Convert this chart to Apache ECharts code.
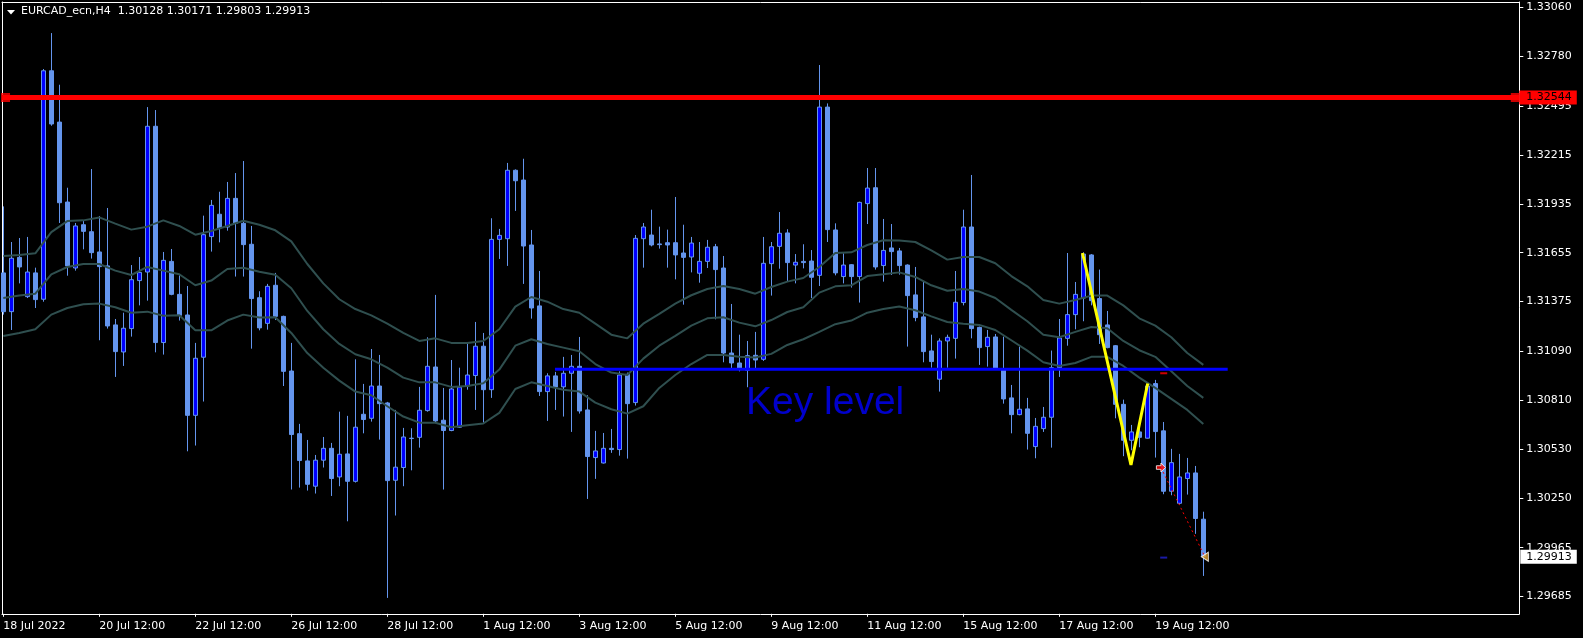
<!DOCTYPE html>
<html><head><meta charset="utf-8">
<script src="https://cdn.jsdelivr.net/npm/echarts@6/dist/echarts.min.js"></script>
<style>html,body{margin:0;padding:0;background:#000;}#c{width:1583px;height:638px;}</style>
</head><body><div id="c"></div>
<script>
const SYMBOL = 'EURCAD_ecn,H4';
const OPEN = [1.31539,1.31317,1.31628,1.31403,1.31539,1.31388,1.32697,1.32403,1.31945,1.31567,
1.31815,1.31775,1.31659,1.31579,1.31241,1.31086,1.31220,1.31495,1.31544,1.32379,
1.31140,1.31605,1.31416,1.31298,1.30723,1.31056,1.31747,1.31875,1.31802,1.31966,
1.31823,1.31703,1.31397,1.31250,1.31468,1.31290,1.30977,1.30618,1.30462,1.30317,
1.30466,1.30534,1.30370,1.30502,1.30345,1.30729,1.30706,1.30891,1.30794,1.30351,
1.30424,1.30592,1.30597,1.30750,1.31000,1.30695,1.30636,1.30655,1.30891,1.30951,
1.31119,1.30870,1.31731,1.31735,1.32127,1.32071,1.31699,1.31350,1.30859,1.30949,
1.30886,1.30964,1.31004,1.30754,1.30481,1.30450,1.30534,1.30527,1.30958,1.30796,
1.31735,1.31756,1.31705,1.31712,1.31712,1.31653,1.31630,1.31537,1.31605,1.31689,
1.31567,1.31080,1.31023,1.30981,1.31067,1.31044,1.31592,1.31691,1.31768,1.31584,
1.31605,1.31607,1.31525,1.32489,1.31785,1.31518,1.31586,1.31518,1.31936,1.32027,
1.31581,1.31682,1.31665,1.31584,1.31413,1.31287,1.31092,1.30930,1.31149,1.31164,
1.31369,1.31802,1.31227,1.31117,1.31172,1.30989,1.30823,1.30727,1.30760,1.30544,
1.30647,1.30712,1.30996,1.31164,1.31300,1.31395,1.31642,1.31392,1.31241,1.31122,
1.30786,1.30580,1.30628,1.30592,1.30905,1.30634,1.30288,1.30219,1.30361,1.30393,
1.30128];
const CLOSE = [1.31317,1.31623,1.31573,1.31544,1.31386,1.32697,1.32392,1.31941,1.31579,1.31808,
1.31777,1.31655,1.31575,1.31235,1.31088,1.31222,1.31500,1.31542,1.32379,1.31140,
1.31611,1.31416,1.31296,1.30723,1.31050,1.31758,1.31926,1.31796,1.31966,1.31823,
1.31701,1.31392,1.31224,1.31462,1.31290,1.30975,1.30613,1.30464,1.30328,1.30466,
1.30534,1.30361,1.30500,1.30345,1.30655,1.30699,1.30891,1.30790,1.30349,1.30426,
1.30599,1.30590,1.30752,1.31004,1.30691,1.30636,1.30874,1.30884,1.30954,1.31119,
1.30870,1.31731,1.31754,1.32127,1.32067,1.31693,1.31338,1.30859,1.30949,1.30886,
1.30964,1.31004,1.30748,1.30487,1.30519,1.30534,1.30527,1.30954,1.30790,1.31737,
1.31802,1.31699,1.31701,1.31699,1.31642,1.31628,1.31710,1.31605,1.31686,1.31558,
1.31080,1.31023,1.30985,1.31065,1.31040,1.31594,1.31689,1.31766,1.31598,1.31600,
1.31598,1.31514,1.32489,1.31787,1.31539,1.31584,1.31518,1.31943,1.32025,1.31573,
1.31668,1.31661,1.31581,1.31409,1.31283,1.31088,1.31031,1.31149,1.31170,1.31371,
1.31802,1.31220,1.31111,1.31170,1.30989,1.30817,1.30727,1.30758,1.30620,1.30660,
1.30712,1.30996,1.31166,1.31300,1.31416,1.31647,1.31380,1.31185,1.31111,1.30786,
1.30580,1.30628,1.30597,1.30891,1.30630,1.30288,1.30452,1.30370,1.30393,1.30132,
1.29913];
const HIGH = [1.31920,1.31716,1.31739,1.31745,1.31569,1.32707,1.32913,1.32617,1.32027,1.31825,
1.31836,1.32134,1.31865,1.31911,1.31275,1.31311,1.31584,1.31630,1.32489,1.32472,
1.31659,1.31676,1.31525,1.31464,1.31138,1.31867,1.31957,1.32004,1.32060,1.32111,
1.32180,1.31808,1.31434,1.31476,1.31539,1.31294,1.31138,1.30674,1.30582,1.30496,
1.30599,1.30565,1.30744,1.30720,1.31044,1.30903,1.31103,1.31069,1.30800,1.30754,
1.30651,1.30649,1.30886,1.31170,1.31413,1.30880,1.31040,1.30996,1.31143,1.31258,
1.31195,1.31852,1.31791,1.32169,1.32132,1.32193,1.31785,1.31550,1.30964,1.30972,
1.31058,1.31069,1.31172,1.30838,1.30634,1.30622,1.30645,1.30975,1.30968,1.31756,
1.31825,1.31901,1.31804,1.31787,1.31974,1.31815,1.31745,1.31716,1.31728,1.31705,
1.31636,1.31361,1.31185,1.31149,1.31201,1.31745,1.31716,1.31888,1.31789,1.31647,
1.31703,1.31670,1.32730,1.32510,1.31823,1.31651,1.31590,1.31947,1.32140,1.32140,
1.31848,1.31819,1.31682,1.31588,1.31573,1.31489,1.31185,1.31164,1.31185,1.31550,
1.31901,1.32100,1.31231,1.31212,1.31189,1.31174,1.30897,1.31117,1.30823,1.30708,
1.30771,1.31094,1.31275,1.31653,1.31487,1.31657,1.31647,1.31558,1.31321,1.31126,
1.30813,1.30668,1.30660,1.30905,1.30926,1.30685,1.30531,1.30502,1.30479,1.30433,
1.30171];
const LOW = [1.31300,1.31212,1.31479,1.31395,1.31338,1.31374,1.32382,1.31825,1.31523,1.31552,
1.31674,1.31621,1.31153,1.31220,1.30943,1.31006,1.31174,1.31353,1.31380,1.31084,
1.31071,1.31411,1.31266,1.30517,1.30550,1.30802,1.31661,1.31714,1.31781,1.31518,
1.31518,1.31105,1.31210,1.31214,1.31269,1.30891,1.30298,1.30309,1.30292,1.30275,
1.30424,1.30261,1.30317,1.30116,1.30338,1.30620,1.30687,1.30584,1.29677,1.30149,
1.30317,1.30408,1.30538,1.30744,1.30685,1.30298,1.30632,1.30651,1.30870,1.30754,
1.30681,1.30823,1.31619,1.31579,1.31894,1.31476,1.31277,1.30834,1.30691,1.30754,
1.30716,1.30628,1.30733,1.30244,1.30359,1.30447,1.30508,1.30492,1.30475,1.30779,
1.31569,1.31691,1.31678,1.31569,1.31502,1.31357,1.31542,1.31483,1.31567,1.31273,
1.31027,1.30991,1.30975,1.30884,1.30985,1.31035,1.31409,1.31563,1.31489,1.31479,
1.31565,1.31395,1.31464,1.31716,1.31525,1.31479,1.31455,1.31369,1.31819,1.31558,
1.31489,1.31527,1.31529,1.31117,1.31262,1.31027,1.30996,1.30859,1.30996,1.31048,
1.31353,1.31164,1.31012,1.31002,1.30985,1.30790,1.30620,1.30723,1.30527,1.30477,
1.30628,1.30538,1.30943,1.31122,1.31216,1.31262,1.31353,1.31132,1.31107,1.30706,
1.30489,1.30523,1.30540,1.30590,1.30481,1.30271,1.30265,1.30212,1.30269,1.30044,
1.29803];

const TIME_LABELS = ['18 Jul 2022','20 Jul 12:00','22 Jul 12:00','26 Jul 12:00','28 Jul 12:00',
  '1 Aug 12:00','3 Aug 12:00','5 Aug 12:00','9 Aug 12:00','11 Aug 12:00','15 Aug 12:00',
  '17 Aug 12:00','19 Aug 12:00'];
const TIME_LABEL_STEP = 12;
const PRICE_TICKS = ['1.33060','1.32780','1.32495','1.32215','1.31935','1.31655','1.31375',
  '1.31090','1.30810','1.30530','1.30250','1.29965','1.29685'];

// moving-average envelope, read every MA_STEP bars
const MA_STEP = 2;
const MA_UPPER = [1.31636,1.31642,1.31651,1.31773,1.31836,1.31840,1.31857,1.31821,1.31787,1.31804,
1.31840,1.31808,1.31758,1.31779,1.31808,1.31838,1.31815,1.31783,1.31720,1.31590,
1.31479,1.31388,1.31332,1.31296,1.31248,1.31195,1.31149,1.31164,1.31138,1.31138,
1.31149,1.31216,1.31346,1.31401,1.31374,1.31332,1.31311,1.31248,1.31185,1.31164,
1.31248,1.31304,1.31363,1.31411,1.31447,1.31464,1.31447,1.31420,1.31458,1.31489,
1.31510,1.31573,1.31653,1.31657,1.31699,1.31726,1.31724,1.31716,1.31668,1.31615,
1.31630,1.31630,1.31594,1.31521,1.31462,1.31384,1.31363,1.31384,1.31409,1.31409,
1.31353,1.31279,1.31237,1.31170,1.31080,1.31012];
const MA_MIDDLE = [1.31395,1.31409,1.31420,1.31531,1.31573,1.31590,1.31590,1.31552,1.31527,1.31573,
1.31552,1.31531,1.31468,1.31495,1.31561,1.31569,1.31546,1.31529,1.31451,1.31321,
1.31216,1.31132,1.31073,1.31044,1.30996,1.30939,1.30912,1.30912,1.30886,1.30891,
1.30907,1.30985,1.31122,1.31159,1.31132,1.31111,1.31090,1.31017,1.30968,1.30954,
1.31048,1.31122,1.31178,1.31237,1.31279,1.31285,1.31254,1.31233,1.31269,1.31315,
1.31342,1.31426,1.31462,1.31468,1.31521,1.31531,1.31542,1.31516,1.31468,1.31437,
1.31447,1.31432,1.31395,1.31327,1.31262,1.31185,1.31170,1.31201,1.31229,1.31222,
1.31149,1.31096,1.31058,1.30975,1.30891,1.30823];
const MA_LOWER = [1.31178,1.31195,1.31216,1.31300,1.31338,1.31359,1.31363,1.31342,1.31311,1.31317,
1.31294,1.31296,1.31210,1.31210,1.31266,1.31300,1.31283,1.31285,1.31195,1.31080,
1.30996,1.30922,1.30859,1.30838,1.30775,1.30716,1.30681,1.30681,1.30655,1.30666,
1.30676,1.30737,1.30874,1.30912,1.30891,1.30870,1.30859,1.30796,1.30758,1.30733,
1.30775,1.30880,1.30954,1.31017,1.31069,1.31069,1.31058,1.31054,1.31075,1.31126,
1.31159,1.31201,1.31245,1.31266,1.31311,1.31332,1.31346,1.31325,1.31290,1.31258,
1.31248,1.31241,1.31212,1.31153,1.31094,1.31027,1.31006,1.31023,1.31058,1.31058,
1.31006,1.30939,1.30880,1.30817,1.30754,1.30674];

const RESISTANCE = 1.32544;
const RESISTANCE_HANDLES = [0.28, 189.0];
const KEY_LEVEL = 1.30987;
const KEY_LEVEL_SPAN = [68.96, 153.05];
const KEY_LEVEL_TEXT = 'Key level';
const KEY_LEVEL_TEXT_AT = [92.84, 1.30792];
const ZIGZAG = [[134.9, 1.31653], [140.96, 1.30439], [143.05, 1.30905]];
const TRADE_OPEN = [144.7, 1.30424];
const TRADE_CLOSE = [150.2, 1.29913];
const TRADE_SL = [145.05, 1.30964];
const TRADE_TP = [145.05, 1.29908];
const X_RANGE = [-0.1625, 189.5];
const Y_RANGE = [1.29586, 1.33091];

const FONT = 'DejaVu Sans';
const fmt = v => v.toFixed(5);
const last = OPEN.length - 1;
const candles = OPEN.map((o, i) => [i, o, CLOSE[i], LOW[i], HIGH[i]]);
const ma = arr => arr.map((v, i) => [i * MA_STEP, v]);
const timeVals = TIME_LABELS.map((_, i) => i * TIME_LABEL_STEP);
const priceVals = PRICE_TICKS.map(Number);

const chart = echarts.init(document.getElementById('c'), null, {renderer: 'canvas'});
const axisLineW = {show: true, onZero: false, lineStyle: {color: '#FFFFFF', width: 1}};
const maLine = (name, arr) => ({
  name, type: 'line', data: ma(arr), symbol: 'none', silent: true, z: 3,
  lineStyle: {color: '#2F4F4F', width: 2}
});
const priceTag = (bg, padLeft) => ({
  show: true, distance: 0, color: '#000000', backgroundColor: bg,
  padding: [2, 5, 1, padLeft], fontFamily: FONT, fontSize: 11
});

chart.setOption({
  backgroundColor: '#000000',
  animation: false,
  title: {
    text: `${SYMBOL}  ${fmt(OPEN[last])} ${fmt(HIGH[last])} ${fmt(LOW[last])} ${fmt(CLOSE[last])}`,
    left: 21, top: 6, padding: 0,
    textStyle: {color: '#FFFFFF', fontFamily: FONT, fontSize: 11, fontWeight: 'normal'}
  },
  graphic: [{type: 'polygon', shape: {points: [[7, 10], [15, 10], [11, 14.5]]}, style: {fill: '#FFFFFF'}}],
  grid: {left: 2, right: 63.7, top: 2, bottom: 24.2, containLabel: false, outerBoundsMode: 'none'},
  xAxis: [
    {type: 'value', min: X_RANGE[0], max: X_RANGE[1], position: 'bottom',
     splitLine: {show: false}, axisLine: axisLineW,
     axisTick: {show: true, customValues: timeVals, length: 3, lineStyle: {color: '#FFFFFF'}},
     axisLabel: {show: true, customValues: timeVals,
       formatter: v => TIME_LABELS[Math.round(v / TIME_LABEL_STEP)],
       color: '#FFFFFF', fontFamily: FONT, fontSize: 11, align: 'left', margin: 7}},
    {type: 'value', min: X_RANGE[0], max: X_RANGE[1], position: 'top',
     splitLine: {show: false}, axisLine: axisLineW, axisTick: {show: false}, axisLabel: {show: false}}
  ],
  yAxis: [
    {type: 'value', min: Y_RANGE[0], max: Y_RANGE[1], position: 'right',
     splitLine: {show: false}, axisLine: axisLineW,
     axisTick: {show: true, customValues: priceVals, length: 4, lineStyle: {color: '#FFFFFF'}},
     axisLabel: {show: true, customValues: priceVals, formatter: v => fmt(v),
       color: '#FFFFFF', fontFamily: FONT, fontSize: 11, margin: 7}},
    {type: 'value', min: Y_RANGE[0], max: Y_RANGE[1], position: 'left',
     splitLine: {show: false}, axisLine: axisLineW, axisTick: {show: false}, axisLabel: {show: false}}
  ],
  series: [
    {
      name: 'EURCAD', type: 'candlestick', data: candles, encode: {x: 0, y: [1, 2, 3, 4]},
      barWidth: 4, z: 2, silent: true,
      itemStyle: {color: '#0000FF', color0: '#6495ED', borderColor: '#6495ED', borderColor0: '#6495ED', borderWidth: 1}
    },
    maLine('Upper', MA_UPPER),
    maLine('Middle', MA_MIDDLE),
    maLine('Lower', MA_LOWER),
    {name: 'Key level line', type: 'line', data: KEY_LEVEL_SPAN.map(x => [x, KEY_LEVEL]),
     symbol: 'none', silent: true, z: 4, lineStyle: {color: '#0000FF', width: 3}},
    {name: 'Resistance', type: 'line', data: X_RANGE.map(x => [x, RESISTANCE]),
     symbol: 'none', silent: true, z: 5, lineStyle: {color: '#FF0000', width: 5},
     endLabel: Object.assign(priceTag('#FF0000', 7), {formatter: fmt(RESISTANCE)})},
    {name: 'Bid', type: 'line', data: X_RANGE.map(x => [x, CLOSE[last]]),
     symbol: 'none', silent: true, z: 5, lineStyle: {color: 'rgba(0,0,0,0)', width: 0},
     endLabel: Object.assign(priceTag('#FFFFFF', 6), {formatter: fmt(CLOSE[last]), distance: 1})},
    {name: 'ZigZag', type: 'line', data: ZIGZAG, symbol: 'none', silent: true, z: 5,
     lineStyle: {color: '#FFFF00', width: 3}},
    {name: 'Trade', type: 'line', data: [TRADE_OPEN, TRADE_CLOSE], symbol: 'none', silent: true, z: 5,
     lineStyle: {color: '#FF0000', width: 1, type: [2, 3]}},
    {name: 'Trade open', type: 'scatter', data: [TRADE_OPEN], silent: true, z: 6,
     symbol: 'path://M0,3 L5,3 L5,0 L10,5 L5,10 L5,7 L0,7 Z', symbolSize: [9, 9],
     itemStyle: {color: '#FF0000', borderColor: '#FFFFFF', borderWidth: 1}},
    {name: 'Trade close', type: 'scatter', data: [TRADE_CLOSE], silent: true, z: 6,
     symbol: 'path://M10,0 L10,10 L0,5 Z', symbolSize: [7, 9],
     itemStyle: {color: '#E0A030', borderColor: '#FFFFFF', borderWidth: 1}},
    {name: 'SL', type: 'scatter', data: [TRADE_SL], silent: true, z: 6, symbol: 'rect', symbolSize: [7, 2],
     itemStyle: {color: '#FF0000'}},
    {name: 'TP', type: 'scatter', data: [TRADE_TP], silent: true, z: 6, symbol: 'rect', symbolSize: [7, 2],
     itemStyle: {color: '#2020D0'}},
    {name: 'Handles', type: 'scatter', data: RESISTANCE_HANDLES.map(x => [x, RESISTANCE]), silent: true, z: 6,
     symbol: 'rect', symbolSize: [9, 9], itemStyle: {color: '#FF0000'}},
    {name: 'Key level text', type: 'scatter', data: [KEY_LEVEL_TEXT_AT], silent: true, z: 6,
     symbolSize: 0,
     label: {show: true, position: 'right', distance: 0, formatter: KEY_LEVEL_TEXT,
       color: '#0000FF', fontFamily: 'Liberation Sans', fontSize: 39}}
  ]
});
</script></body></html>
